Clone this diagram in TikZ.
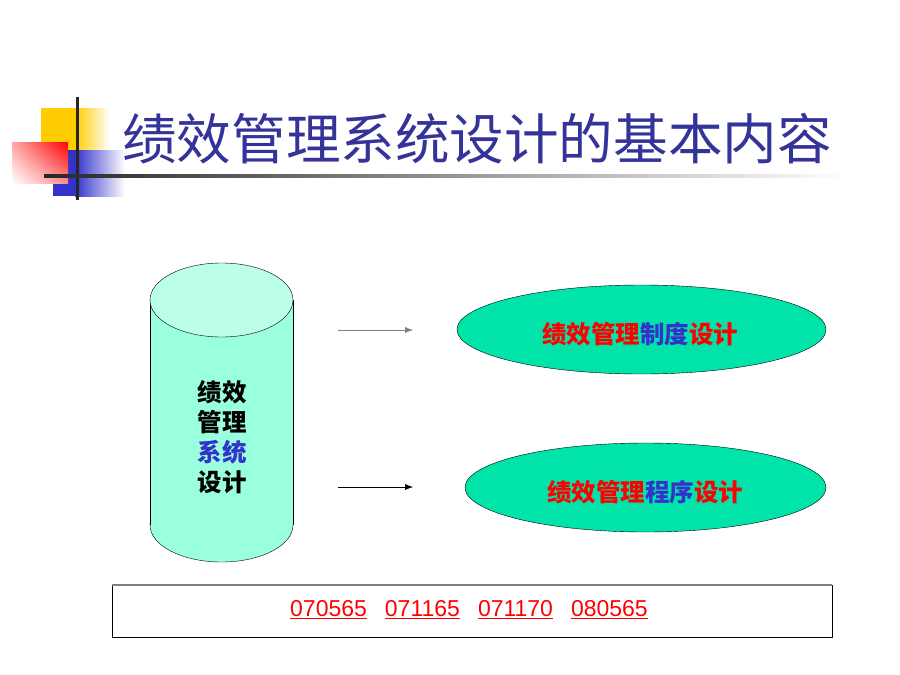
\documentclass[tikz,border=0pt]{standalone}
\usepackage{fontspec}
\newfontfamily\cjk{Noto Sans CJK SC}
\newfontfamily\numfont{Liberation Sans}
\usetikzlibrary{shapes.geometric,arrows.meta,shadings}
\definecolor{titleblue}{RGB}{51,51,153}
\definecolor{txtblue}{RGB}{51,51,204}
\definecolor{baryellow}{RGB}{255,204,0}
\definecolor{cylbody}{RGB}{153,255,221}
\definecolor{cyltop}{RGB}{187,255,234}
\definecolor{ovalgreen}{RGB}{0,228,170}
\begin{document}
\begin{tikzpicture}[x=1pt, y=-1pt, line join=round, >={Latex[length=8pt,width=6pt]},
    oval/.style={ellipse, draw, fill=ovalgreen, inner sep=0pt, minimum height=89pt},
    lbl/.style={font=\cjk\bfseries\fontsize{24.5}{30}\selectfont, align=center, inner sep=0pt}]
    \useasboundingbox (0,0) rectangle (900,675);
    % corner decoration
    \fill[baryellow] (41,108) rectangle (75,150);
    \shade[left color=baryellow, right color=white] (75,108) rectangle (110,150);
    \fill[txtblue] (53,150) rectangle (75,196);
    \shade[left color=txtblue, right color=white] (75,150) rectangle (125,196);
    \shade[upper right=red, upper left=red!35, lower left=white, lower right=red!45] (12,142) rectangle (68,183);
    \draw[line width=3pt, black!85] (77,97) -- (77,200);
    \shade[left color=black!85, middle color=gray!60, right color=white] (44,174.5) rectangle (845,177.5);
    % title
    \node[anchor=west, inner sep=0pt, text=titleblue, font=\cjk\fontsize{54.6}{60}\selectfont] (title) at (122,139) {绩效管理系统设计的基本内容};
    % cylinder
    \filldraw[fill=cylbody] (221.5,525) ellipse (71.5 and 37);
    \fill[cylbody] (150,300) rectangle (293,525);
    \draw (150,300) -- (150,525) (293,300) -- (293,525);
    \filldraw[fill=cyltop] (221.5,300) ellipse (71.5 and 37);
    \node[lbl] (sys) at (222,437) {绩效\\管理\\\textcolor{txtblue}{系统}\\设计};
    % ovals
    \node[oval, minimum width=369pt] (zhidu) at (641.5,329.5) {};
    \node[oval, minimum width=361pt] (chengxu) at (645.5,487.5) {};
    \node[lbl, text=red] at (640,334) {绩效管理\textcolor{txtblue}{制度}设计};
    \node[lbl, text=red] at (645,492) {绩效管理\textcolor{txtblue}{程序}设计};
    % arrows
    \coordinate (a1) at (338,330); \coordinate (b1) at (413,330);
    \coordinate (a2) at (338,487); \coordinate (b2) at (413,487);
    \draw[->, gray] (a1) -- (b1);
    \draw[->] (a2) -- (b2);
    % codes
    \node[draw, minimum width=720pt, minimum height=52pt, inner sep=0pt] (codes) at (472,611) {};
    \draw[gray, line width=2pt] (codes.north west) -- (codes.north east);
    \node[text=red, font=\numfont\fontsize{23}{26}\selectfont] at (469,610)
        {\underline{070565}\hspace*{18pt}\underline{071165}\hspace*{18pt}\underline{071170}\hspace*{18pt}\underline{080565}};
\end{tikzpicture}
\end{document}
